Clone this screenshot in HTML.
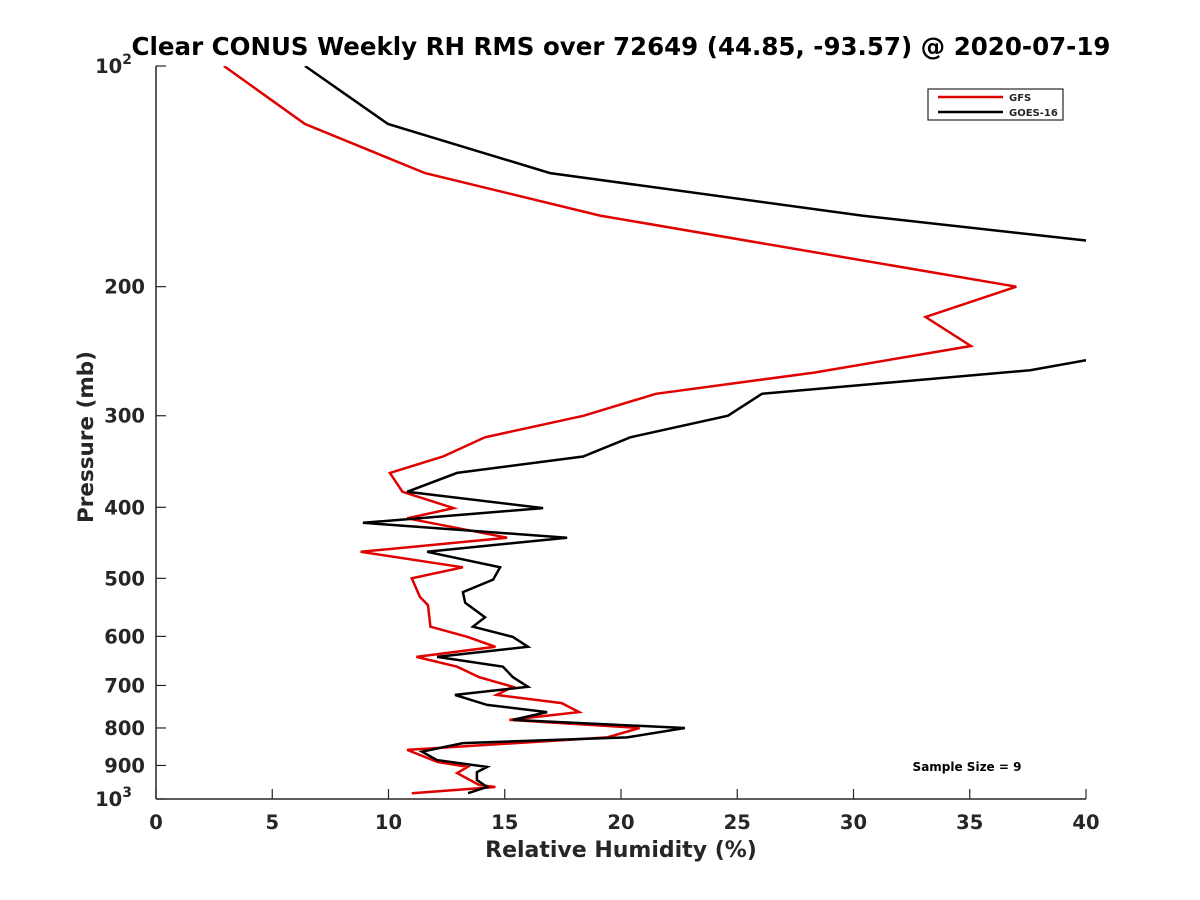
<!DOCTYPE html>
<html><head><meta charset="utf-8"><style>
body{margin:0;background:#fff}
svg{display:block;font-family:"DejaVu Sans","Liberation Sans",sans-serif;font-weight:bold}
</style></head><body>
<svg id="c" width="1200" height="900" viewBox="0 0 1200 900">
<defs><clipPath id="clip"><rect x="156" y="66" width="930" height="733"/></clipPath></defs>
<text x="621" y="55" text-anchor="middle" font-size="24.5" fill="#000">Clear CONUS Weekly RH RMS over 72649 (44.85, -93.57) @ 2020-07-19</text>
<g id="axes"></g>
<g id="series" clip-path="url(#clip)"></g>
<text x="621" y="857" text-anchor="middle" font-size="22" fill="#262626">Relative Humidity (%)</text>
<text transform="translate(93,437) rotate(-90)" text-anchor="middle" font-size="21.5" fill="#262626">Pressure (mb)</text>
<g>
<rect x="928" y="89" width="135" height="31" fill="#fff" stroke="#262626" stroke-width="1.2"/>
<line x1="938" y1="97" x2="1003" y2="97" stroke="#e00000" stroke-width="2.5"/>
<text x="1009" y="101" font-size="10" fill="#262626">GFS</text>
<line x1="938" y1="112" x2="1003" y2="112" stroke="#000" stroke-width="2.5"/>
<text x="1009" y="116" font-size="10" fill="#262626">GOES-16</text>
</g>
<text x="967" y="771" text-anchor="middle" font-size="12" fill="#000">Sample Size = 9</text>
</svg>
<script>
const xTicks=[0,5,10,15,20,25,30,35,40];
const yTicks=[100,200,300,400,500,600,700,800,900,1000];
const yTickLabels=["10²","200","300","400","500","600","700","800","900","10³"];
const gfsP=[100,120,140,160,200,220,241,262,280,300,321,341,359,381,401,414,440,460,483,500,530,544,582,601,620,640,660,682,703,721,740,761,780,800,824,857,890,904,922,957,963,982];
const gfsRH=[2.92,6.41,11.57,19.1,37.0,33.1,35.05,28.3,21.5,18.4,14.15,12.35,10.06,10.6,12.8,10.8,15.1,8.8,13.2,11.0,11.35,11.7,11.8,13.4,14.6,11.2,12.95,13.9,15.35,14.65,17.45,18.2,15.2,20.8,19.4,10.8,12.1,13.4,12.95,13.9,14.6,11.0];
const goesP=[100,120,140,160,173,210,240,252,260,280,300,321,341,359,381,401,420,440,460,483,502,522,540,565,582,601,620,640,660,682,703,721,744,761,780,800,824,839,862,885,904,919,942,963,982];
const goesRH=[6.41,9.98,16.95,30.37,40.0,47,45,40.0,37.6,26.06,24.6,20.4,18.37,12.95,10.8,16.65,8.9,17.68,11.66,14.8,14.5,13.2,13.3,14.15,13.63,15.35,16.0,12.09,14.92,15.35,16.0,12.86,14.24,16.82,15.35,22.75,20.26,13.2,11.44,12.09,14.24,13.8,13.8,14.24,13.42];
const L=156,R=1086,T=66,B=799;
const X=v=>L+(v-0)/(40-0)*(R-L);
const Y=p=>T+(Math.log10(p)-2)*(B-T);
const NS="http://www.w3.org/2000/svg";
function mk(tag,attrs,parent){const e=document.createElementNS(NS,tag);for(const k in attrs)e.setAttribute(k,attrs[k]);parent.appendChild(e);return e;}
const ax=document.getElementById('axes');
let e=mk('line',{x1:L,y1:T,x2:L,y2:B,stroke:'#262626','stroke-width':1.5},ax);


e=mk('line',{x1:L,y1:B,x2:R,y2:B,stroke:'#262626','stroke-width':1.5},ax);


xTicks.forEach(v=>{
 const t=mk('line',{x1:X(v),y1:B,x2:X(v),y2:B-10,stroke:'#262626','stroke-width':1.2},ax);
 
 
 const l=mk('text',{x:X(v),y:B+30,'text-anchor':'middle','font-size':19.5,fill:'#262626'},ax);
 l.textContent=v;
 
 
});
yTicks.forEach((p,i)=>{
 const t=mk('line',{x1:L,y1:Y(p),x2:L+10,y2:Y(p),stroke:'#262626','stroke-width':1.2},ax);
 
 
 const l=mk('text',{x:L-11,y:Y(p)+7,'text-anchor':'end','font-size':19.5,fill:'#262626'},ax);
 const s=yTickLabels[i];
 if(s.endsWith('²')||s.endsWith('³')){
  l.textContent=s.slice(0,-1);
  const ts=mk('tspan',{dy:-9,'font-size':14},l);ts.textContent=s.endsWith('²')?'2':'3';
  l.setAttribute('x',L-24);
 } else l.textContent=s;
 
 
});
const sg=document.getElementById('series');
function line(P,V,color,name){
 const d=P.map((p,i)=>(i?'L':'M')+X(V[i]).toFixed(1)+','+Y(p).toFixed(1)).join('');
 const pth=mk('path',{d:d,fill:'none',stroke:color,'stroke-width':2.5,'stroke-linejoin':'miter'},sg);
 
 
}
line(gfsP,gfsRH,'#e00000','gfs-line');
line(goesP,goesRH,'#000','goes16-line');
</script>
</body></html>
